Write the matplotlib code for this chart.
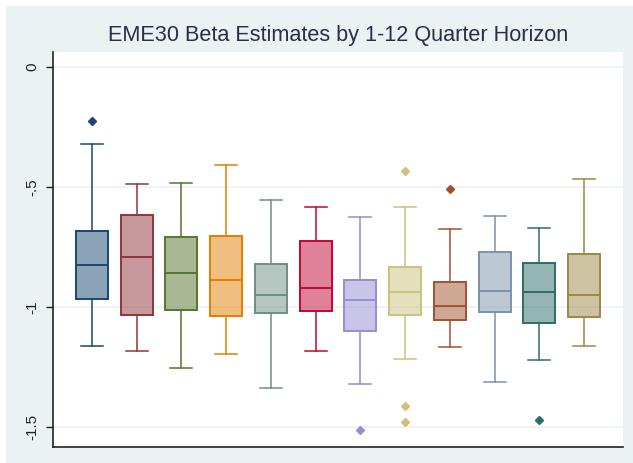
import matplotlib
matplotlib.use('Agg')
import matplotlib.pyplot as plt
from matplotlib.patches import Rectangle

# Box statistics per quarter horizon.
horizons = list(range(1, 13))
whis_hi = [-0.319, -0.488, -0.482, -0.410, -0.554, -0.583, -0.626, -0.582, -0.676, -0.621, -0.671, -0.467]
q3 = [-0.683, -0.617, -0.710, -0.705, -0.822, -0.724, -0.888, -0.832, -0.894, -0.772, -0.817, -0.778]
med = [-0.826, -0.793, -0.860, -0.889, -0.949, -0.922, -0.971, -0.939, -0.994, -0.933, -0.939, -0.950]
q1 = [-0.967, -1.033, -1.011, -1.039, -1.026, -1.015, -1.099, -1.033, -1.056, -1.022, -1.067, -1.040]
whis_lo = [-1.161, -1.182, -1.254, -1.195, -1.338, -1.182, -1.322, -1.215, -1.167, -1.311, -1.221, -1.163]
outliers = [[-0.224], [], [], [], [], [], [-1.514], [-0.435, -1.413, -1.480],
            [-0.507], [], [-1.471], []]
colors = ['#1a476f', '#90353b', '#55752f', '#e37e00', '#6e8e84', '#c10534',
          '#938dd2', '#cac27e', '#a0522d', '#7b92a8', '#2d6d66', '#9c8847']
ytick_vals = [0, -0.5, -1, -1.5]
ytick_labels = ['0', '-.5', '-1', '-1.5']

plt.rcParams['font.family'] = ['Liberation Sans', 'DejaVu Sans']

fig = plt.figure(figsize=(6.33, 4.63), dpi=100)
fig.patch.set_facecolor('white')
# Stata-like graph region (light blue-grey) with thin white edge top/left.
fig.add_artist(Rectangle((6 / 633, 0), 1, 457 / 463, transform=fig.transFigure,
                         facecolor='#eaf2f3', edgecolor='none', zorder=-10))

ax = fig.add_axes([53 / 633, 16 / 463, 570 / 633, 395 / 463])
ax.set_facecolor('white')

stats = []
for i in range(len(horizons)):
    stats.append(dict(med=med[i], q1=q1[i], q3=q3[i], whislo=whis_lo[i],
                      whishi=whis_hi[i], fliers=outliers[i]))

bp = ax.bxp(stats, positions=horizons, widths=0.715, capwidths=0.49,
            patch_artist=True, showfliers=True)

for i, c in enumerate(colors):
    box = bp['boxes'][i]
    box.set_facecolor(matplotlib.colors.to_rgba(c, 0.5))
    box.set_edgecolor(c)
    box.set_linewidth(1.4)
    bp['medians'][i].set_color(c)
    bp['medians'][i].set_linewidth(1.4)
    for w in bp['whiskers'][2 * i:2 * i + 2]:
        w.set_color(c)
        w.set_linewidth(1.1)
    for cap in bp['caps'][2 * i:2 * i + 2]:
        cap.set_color(c)
        cap.set_linewidth(1.1)
    fl = bp['fliers'][i]
    fl.set_marker('D')
    fl.set_markerfacecolor(c)
    fl.set_markeredgecolor(c)
    fl.set_markersize(4.5)

ax.set_xlim(0.128, 12.872)
ax.set_ylim(-1.583, 0.0625)
ax.set_xticks([])
ax.set_yticks(ytick_vals)
ax.set_yticklabels(ytick_labels)
ax.tick_params(axis='y', labelrotation=90, labelsize=11, length=5, width=1,
               pad=5, colors='#222222')
for lbl in ax.get_yticklabels():
    lbl.set_verticalalignment('center')
ax.yaxis.grid(True, color='#eaf2f3', linewidth=1.2)
ax.set_axisbelow(True)
for s in ['top', 'right']:
    ax.spines[s].set_visible(False)
for s in ['left', 'bottom']:
    ax.spines[s].set_color('#222222')
    ax.spines[s].set_linewidth(1.2)

fig.text(338 / 633, 1 - 35 / 463, 'EME30 Beta Estimates by 1-12 Quarter Horizon',
         ha='center', va='center', fontsize=15.6, color='#2a2f45')

fig.savefig('out.png', dpi=100)
